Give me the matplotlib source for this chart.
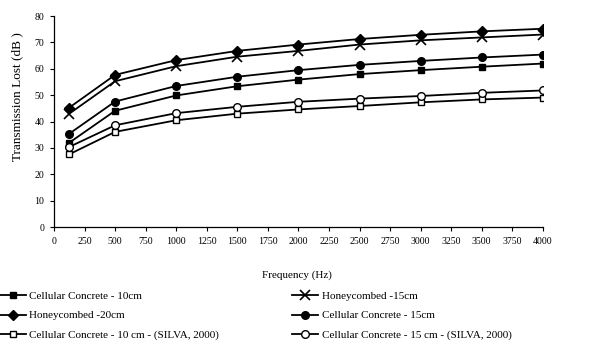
import matplotlib

matplotlib.use("Agg")
import matplotlib.pyplot as plt

plt.rcParams["font.family"] = ["Liberation Serif", "DejaVu Serif"]

freq = [125, 500, 1000, 1500, 2000, 2500, 3000, 3500, 4000]
cc_10 = [32.0, 44.1, 49.9, 53.4, 55.9, 58.0, 59.5, 60.8, 62.0]
honey_20 = [45.3, 57.7, 63.3, 66.8, 69.2, 71.3, 72.9, 74.2, 75.2]
cc_10_silva = [27.6, 36.1, 40.5, 43.0, 44.6, 45.9, 47.3, 48.4, 49.1]
honey_15 = [43.0, 55.3, 61.0, 64.6, 66.8, 69.2, 70.8, 71.9, 73.0]
cc_15 = [35.4, 47.6, 53.5, 57.0, 59.5, 61.5, 63.0, 64.3, 65.4]
cc_15_silva = [30.4, 38.6, 43.2, 45.6, 47.5, 48.7, 49.7, 50.9, 51.8]

series = [
    ("Cellular Concrete - 10cm", cc_10, dict(marker="s", mfc="black", ms=5)),
    ("Honeycombed -20cm", honey_20, dict(marker="D", mfc="black", ms=5)),
    ("Cellular Concrete - 10 cm - (SILVA, 2000)", cc_10_silva, dict(marker="s", mfc="white", ms=5)),
    ("Honeycombed -15cm", honey_15, dict(marker="x", ms=7, mew=1.2)),
    ("Cellular Concrete - 15cm", cc_15, dict(marker="o", mfc="black", ms=5.5)),
    ("Cellular Concrete - 15 cm - (SILVA, 2000)", cc_15_silva, dict(marker="o", mfc="white", ms=5.5)),
]

fig = plt.figure(figsize=(6.08, 3.42), dpi=100)
ax = fig.add_axes([0.0888, 0.336, 0.804, 0.617])

for label, values, style in series:
    ax.plot(freq, values, color="black", lw=1.3, mec="black", label=label, **style)

ax.set_xlim(0, 4000)
ax.set_ylim(0, 80)
ax.set_xticks(range(0, 4001, 250))
ax.set_yticks(range(0, 81, 10))
ax.tick_params(labelsize=7.1, length=3, width=0.8, direction="out", pad=4)
for side in ["top", "right"]:
    ax.spines[side].set_visible(False)
ax.spines["left"].set_linewidth(0.9)
ax.spines["bottom"].set_linewidth(0.9)
fig.text(0.028, 0.719, "Transmission Lost (dB )", rotation=90, ha="center", va="center", fontsize=9.5)
fig.text(0.489, 0.196, "Frequency (Hz)", ha="center", va="center", fontsize=8)

handles, labels = ax.get_legend_handles_labels()
fig.legend(
    handles,
    labels,
    ncol=2,
    loc="upper left",
    bbox_to_anchor=(-0.01, 0.164),
    frameon=False,
    fontsize=8,
    handlelength=2.4,
    handletextpad=0.3,
    columnspacing=6.5,
    labelspacing=0.85,
    borderpad=0,
)

fig.savefig("out.png", dpi=100)
